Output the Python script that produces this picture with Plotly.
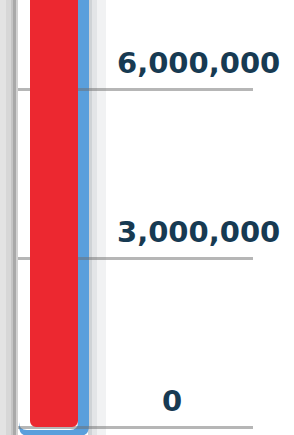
import plotly.graph_objects as go

# ---- data ----
categories = ["Total"]
values = [7700000]
tick_values = [0, 3000000, 6000000]
tick_labels = ["0", "3,000,000", "6,000,000"]

# ---- layout geometry (pixels) ----
W, H = 294, 435
PLOT_L, PLOT_R = 18, 253          # plot area horizontal extent in px
PX_PER_UNIT = 48                  # px per category unit on x
BAR_CENTER_PX = 54
Y_TOP, Y_BOT = 7.58e6, -0.142e6   # value range shown top->bottom

x_lo = -(BAR_CENTER_PX - PLOT_L) / PX_PER_UNIT
x_hi = x_lo + (PLOT_R - PLOT_L) / PX_PER_UNIT


def px(xp):
    return (xp - PLOT_L) / (PLOT_R - PLOT_L)


def py(yp):
    return 1 - yp / H


def rounded_bottom(x0, x1, ytop, ybot, r):
    pts = [
        f"M{px(x0):.5f},{py(ytop):.5f}",
        f"L{px(x0):.5f},{py(ybot - r):.5f}",
        f"Q{px(x0):.5f},{py(ybot):.5f} {px(x0 + r):.5f},{py(ybot):.5f}",
        f"L{px(x1 - r):.5f},{py(ybot):.5f}",
        f"Q{px(x1):.5f},{py(ybot):.5f} {px(x1):.5f},{py(ybot - r):.5f}",
        f"L{px(x1):.5f},{py(ytop):.5f} Z",
    ]
    return " ".join(pts)


shapes = []
# left shadow strip
for (a, b, c) in [(0, 6, "#e3e3e3"), (6, 11, "#d7d7d7"), (11, 13, "#c5c5c5"),
                  (13, 16, "#a9a9a9"), (16, 18, "#d2d2d2")]:
    shapes.append(dict(type="rect", xref="paper", yref="paper", layer="below",
                       x0=px(a), x1=px(b), y0=0, y1=1, fillcolor=c, line_width=0))
# right shadow strip
for (a, b, c) in [(88, 92, "#cfd3d6"), (92, 97, "#e3e5e7"), (97, 106, "#f1f2f3")]:
    shapes.append(dict(type="rect", xref="paper", yref="paper", layer="below",
                       x0=px(a), x1=px(b), y0=0, y1=1, fillcolor=c, line_width=0))
# glass tube: blue outer, white inner
shapes.append(dict(type="path", xref="paper", yref="paper", layer="below",
                   path=rounded_bottom(19, 89, -20, 436, 10),
                   fillcolor="#5a9fdc", line_width=0))
shapes.append(dict(type="path", xref="paper", yref="paper", layer="below",
                   path=rounded_bottom(19, 78, -20, 430, 8),
                   fillcolor="#ffffff", line_width=0))

fig = go.Figure()
fig.add_trace(go.Bar(
    x=categories,
    y=[-v for v in values],
    base=values,
    width=1.0,
    marker=dict(color="#ec2830", line_width=0, cornerradius=6),
    hoverinfo="skip",
))

annotations = []
label_anchor = {"0": ("center", 172)}
for v, t in zip(tick_values, tick_labels):
    anchor, xp = label_anchor.get(t, ("left", 115))
    annotations.append(dict(
        x=px(xp), xref="paper", y=v, yref="y", yshift=26,
        xanchor=anchor, yanchor="middle", showarrow=False,
        text=t,
        font=dict(family="DejaVu Sans", size=29, color="#173a52", weight="bold"),
    ))

fig.update_layout(
    width=W, height=H, autosize=False,
    margin=dict(l=PLOT_L, r=W - PLOT_R, t=0, b=0, pad=0),
    paper_bgcolor="#ffffff",
    plot_bgcolor="rgba(0,0,0,0)",
    showlegend=False,
    barmode="overlay",
    shapes=shapes,
    annotations=annotations,
    xaxis=dict(type="category", range=[x_lo, x_hi], visible=False,
               showgrid=False, zeroline=False),
    yaxis=dict(range=[Y_BOT, Y_TOP], tickvals=tick_values, showticklabels=False,
               showgrid=True, gridcolor="rgba(110,110,110,0.5)", gridwidth=3,
               zeroline=False, showline=False, ticks=""),
)

fig.write_html(
    "out.html",
    config={"displayModeBar": False},
    post_script="document.body.style.margin='0';document.body.style.overflow='hidden';",
)
